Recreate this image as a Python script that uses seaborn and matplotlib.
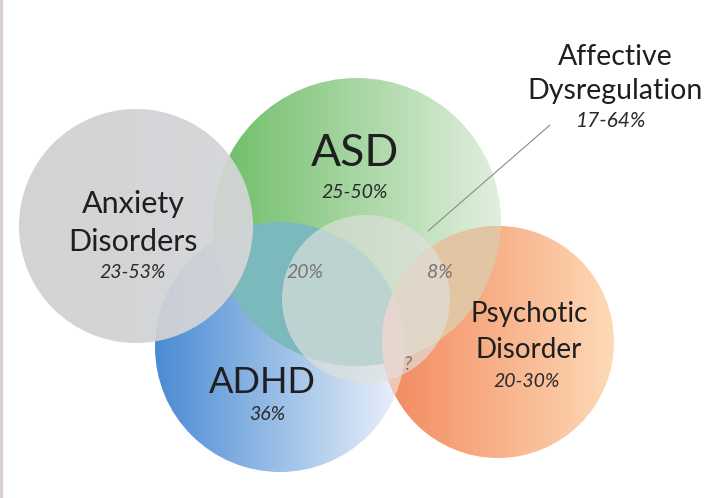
import numpy as np
import matplotlib
matplotlib.use("Agg")
import matplotlib.pyplot as plt
from matplotlib.patches import Circle
from matplotlib.colors import LinearSegmentedColormap
import seaborn as sns

sns.set_theme(style="white")
plt.rcParams['font.family'] = ['Lato', 'DejaVu Sans']

# Data
groups = ['ADHD', 'ASD', 'Anxiety\nDisorders', 'Psychotic\nDisorder']
rates = ['36%', '25-50%', '23-53%', '20-30%']
overlap_labels = ['20%', '8%', '?']
affective_name = 'Affective\nDysregulation'
affective_rate = '17-64%'

# layout (pixel space): center x, center y, radius
layout = {
    'ADHD': (280, 347, 125),
    'ASD': (357, 222, 144),
    'Anxiety\nDisorders': (136, 226, 117),
    'Psychotic\nDisorder': (498, 342, 116),
}
grad = {
    'ADHD': ('#4a8bd4', '#eef3fb'),
    'ASD': ('#6dbd66', '#e2efdf'),
    'Anxiety\nDisorders': ('#cfd0d3', '#d5d6d8'),
    'Psychotic\nDisorder': ('#f3885e', '#fddab6'),
}
alphas = {'ADHD': 1.0, 'ASD': 1.0, 'Anxiety\nDisorders': 0.94, 'Psychotic\nDisorder': 1.0}
name_size = {'ADHD': 26, 'ASD': 32, 'Anxiety\nDisorders': 22, 'Psychotic\nDisorder': 20}

fig = plt.figure(figsize=(7.12, 4.98), dpi=100)
ax = fig.add_axes([0, 0, 1, 1])
ax.set_xlim(0, 712)
ax.set_ylim(498, 0)
ax.set_aspect('equal')
ax.axis('off')


def circ(g, **kw):
    cx, cy, r = layout[g]
    return Circle((cx, cy), r, transform=ax.transData, **kw)


ramp = np.linspace(0, 1, 256).reshape(1, -1)
for g in ['ADHD', 'ASD', 'Psychotic\nDisorder', 'Anxiety\nDisorders']:
    cx, cy, r = layout[g]
    cmap = LinearSegmentedColormap.from_list(g, list(grad[g]))
    im = ax.imshow(ramp, cmap=cmap, extent=(cx - r, cx + r, cy + r, cy - r),
                   alpha=alphas[g], interpolation='bicubic', zorder=1)
    im.set_clip_path(circ(g))
    if g == 'ASD':
        # ASD / ADHD overlap
        p = ax.add_patch(circ('ASD', facecolor='#7cb9bc', edgecolor='none', zorder=1))
        p.set_clip_path(circ('ADHD'))
    if g == 'Psychotic\nDisorder':
        p = ax.add_patch(circ('Psychotic\nDisorder', facecolor='#e2c5a3', edgecolor='none', zorder=1))
        p.set_clip_path(circ('ASD'))
        p = ax.add_patch(circ('Psychotic\nDisorder', facecolor='#efc6b6', edgecolor='none', zorder=1))
        p.set_clip_path(circ('ADHD'))

# affective dysregulation circle
ax.add_patch(Circle((366, 299), 84, facecolor='#e0e1dd', alpha=0.66, edgecolor='none', zorder=2))

ax.set_xlim(0, 712)
ax.set_ylim(498, 0)

# left border line
ax.axvline(1, color='#d8cdd2', lw=3, zorder=5)

# labels
name_pos = {
    'ADHD': (262, 382),
    'ASD': (355, 153),
    'Anxiety\nDisorders': (133, 223),
    'Psychotic\nDisorder': (529, 332),
}
rate_pos = {
    'ADHD': (267, 414),
    'ASD': (355, 192),
    'Anxiety\nDisorders': (133, 272),
    'Psychotic\nDisorder': (527, 381),
}
for g, rt in zip(groups, rates):
    ax.text(*name_pos[g], g, ha='center', va='center', fontsize=name_size[g],
            color='#1f1f1f', linespacing=1.45, zorder=6)
    ax.text(*rate_pos[g], rt, ha='center', va='center', fontsize=14,
            style='italic', color='#2a2a2a', zorder=6)

for lbl, pos in zip(overlap_labels, [(305, 272), (440, 272), (408, 364)]):
    ax.text(*pos, lbl, ha='center', va='center', fontsize=14, style='italic',
            color='#767676', zorder=6)

ax.text(615, 74, affective_name, ha='center', va='center', fontsize=20.5,
        color='#1f1f1f', linespacing=1.4, zorder=6)
ax.text(611, 121, affective_rate, ha='center', va='center', fontsize=15,
        style='italic', color='#2a2a2a', zorder=6)
ax.plot([428, 550], [231, 125], color='#8a8a8a', lw=0.8, zorder=6)

fig.savefig('out.png', dpi=100)
